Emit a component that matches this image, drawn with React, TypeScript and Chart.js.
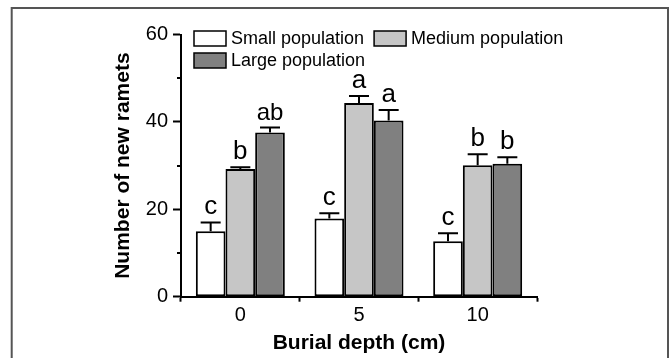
import React, { useEffect, useRef } from 'react';
import { Chart, registerables } from 'chart.js';

Chart.register(...registerables);

const categories = ['0', '5', '10'];
const seriesNames = ['Small population', 'Medium population', 'Large population'];
const seriesColors = ['#ffffff', '#c6c6c6', '#808080'];
const smallValues = [15.0, 17.9, 12.7];
const mediumValues = [29.2, 44.3, 30.1];
const largeValues = [37.6, 40.3, 30.4];
const smallErrors = [2.0, 1.2, 1.8];
const mediumErrors = [0.4, 1.6, 2.5];
const largeErrors = [1.1, 2.4, 1.5];
const smallLetters = ['c', 'c', 'c'];
const mediumLetters = ['b', 'a', 'b'];
const largeLetters = ['ab', 'a', 'b'];
const yMin = 0;
const yMax = 60;
const yStep = 20;
const yMinorTicks = [10, 30, 50];
const xTitle = 'Burial depth (cm)';
const yTitle = 'Number of new ramets';

const FONT = 'Arial, "Liberation Sans", Helvetica, sans-serif';

const errorsBySeries = [smallErrors, mediumErrors, largeErrors];
const lettersBySeries = [smallLetters, mediumLetters, largeLetters];

const decorPlugin = {
  id: 'decor',
  beforeDraw(chart: any) {
    const ctx = chart.ctx;
    ctx.save();
    ctx.strokeStyle = '#555555';
    ctx.lineWidth = 2;
    ctx.beginPath();
    ctx.moveTo(11.7, chart.height + 5);
    ctx.lineTo(11.7, 8);
    ctx.lineTo(668, 8);
    ctx.lineTo(668, chart.height + 5);
    ctx.stroke();
    ctx.restore();
  },
  afterDatasetsDraw(chart: any) {
    const ctx = chart.ctx;
    const yScale = chart.scales.y;
    ctx.save();
    chart.data.datasets.forEach((ds: any, i: number) => {
      const meta = chart.getDatasetMeta(i);
      meta.data.forEach((bar: any, j: number) => {
        const v = ds.data[j];
        const e = errorsBySeries[i][j];
        const yTop = yScale.getPixelForValue(v);
        const yErr = yScale.getPixelForValue(v + e);
        const x = bar.x;
        ctx.strokeStyle = '#000';
        ctx.lineWidth = 2;
        ctx.beginPath();
        ctx.moveTo(x, yTop);
        ctx.lineTo(x, yErr);
        ctx.moveTo(x - 10, yErr);
        ctx.lineTo(x + 10, yErr);
        ctx.stroke();
        const letter = lettersBySeries[i][j];
        ctx.fillStyle = '#000';
        ctx.font = (letter.length > 1 ? '24px ' : '26px ') + FONT;
        ctx.textAlign = 'center';
        ctx.textBaseline = 'alphabetic';
        ctx.fillText(letter, x, yErr - 8);
      });
    });
    ctx.restore();
  },
  afterDraw(chart: any) {
    const ctx = chart.ctx;
    const yScale = chart.scales.y;
    const area = chart.chartArea;
    ctx.save();
    // minor ticks
    ctx.strokeStyle = '#000';
    ctx.lineWidth = 2;
    yMinorTicks.forEach((t) => {
      const y = Math.round(yScale.getPixelForValue(t));
      ctx.beginPath();
      ctx.moveTo(area.left - 4, y);
      ctx.lineTo(area.left, y);
      ctx.stroke();
    });
    // legend
    ctx.font = '18px ' + FONT;
    ctx.textBaseline = 'middle';
    ctx.textAlign = 'left';
    const boxW = 32;
    const boxH = 15;
    const x1 = area.left + 13;
    const row1 = 31;
    const row2 = 53;
    const textGap = 5;
    const w1 = ctx.measureText(chart.data.datasets[0].label).width;
    const x2 = x1 + boxW + textGap + w1 + 10;
    const items = [
      { i: 0, x: x1, y: row1 },
      { i: 1, x: x2, y: row1 },
      { i: 2, x: x1, y: row2 },
    ];
    items.forEach((it) => {
      const ds = chart.data.datasets[it.i];
      ctx.fillStyle = ds.backgroundColor;
      ctx.fillRect(it.x, it.y, boxW, boxH);
      ctx.strokeStyle = '#000';
      ctx.lineWidth = 1.5;
      ctx.strokeRect(it.x, it.y, boxW, boxH);
      ctx.fillStyle = '#000';
      ctx.fillText(ds.label, it.x + boxW + textGap, it.y + boxH / 2 + 1);
    });
    ctx.restore();
  },
};

export default function App() {
  const canvasRef = useRef<HTMLCanvasElement | null>(null);

  useEffect(() => {
    const canvas = canvasRef.current;
    if (!canvas) return;
    const values = [smallValues, mediumValues, largeValues];
    const chart = new Chart(canvas, {
      type: 'bar',
      data: {
        labels: categories,
        datasets: seriesNames.map((name, i) => ({
          label: name,
          data: values[i],
          backgroundColor: seriesColors[i],
          borderColor: '#000000',
          borderWidth: 2,
          borderSkipped: false,
          categoryPercentage: 0.75,
          barPercentage: 1.0,
        })),
      },
      options: {
        responsive: false,
        animation: false,
        devicePixelRatio: 1,
        layout: { padding: { left: 100, right: 134, top: 34.5, bottom: 0 } },
        plugins: {
          legend: { display: false },
          tooltip: { enabled: false },
        },
        scales: {
          x: {
            type: 'category',
            offset: true,
            border: { display: true, color: '#000', width: 2 },
            grid: {
              display: true,
              offset: true,
              drawOnChartArea: false,
              drawTicks: true,
              tickLength: 5,
              tickColor: '#000',
              tickWidth: 2,
              color: '#000',
            },
            ticks: {
              color: '#000',
              font: { family: FONT, size: 20 },
              padding: 2,
              maxRotation: 0,
            },
            title: {
              display: true,
              text: xTitle,
              color: '#000',
              font: { family: FONT, size: 21, weight: 'bold' },
              padding: { top: 0, bottom: 2 },
            },
            afterFit(scale: any) {
              scale.height = 358 - 296.7;
            },
          },
          y: {
            min: yMin,
            max: yMax,
            border: { display: true, color: '#000', width: 2 },
            grid: {
              display: true,
              drawOnChartArea: false,
              drawTicks: true,
              tickLength: 8,
              tickColor: '#000',
              tickWidth: 2,
              color: '#000',
            },
            ticks: {
              stepSize: yStep,
              color: '#000',
              font: { family: FONT, size: 20 },
              padding: 5,
            },
            title: {
              display: true,
              text: yTitle,
              color: '#000',
              font: { family: FONT, size: 21, weight: 'bold' },
              padding: { top: 10.5, bottom: 0 },
            },
            afterFit(scale: any) {
              scale.width = 81;
            },
          },
        },
      } as any,
      plugins: [decorPlugin],
    });
    return () => chart.destroy();
  }, []);

  return (
    <div style={{ position: 'fixed', left: 0, top: 0, width: 671, height: 358, background: '#fff' }}>
      <canvas ref={canvasRef} width={671} height={358} style={{ display: 'block', width: 671, height: 358 }} />
    </div>
  );
}
